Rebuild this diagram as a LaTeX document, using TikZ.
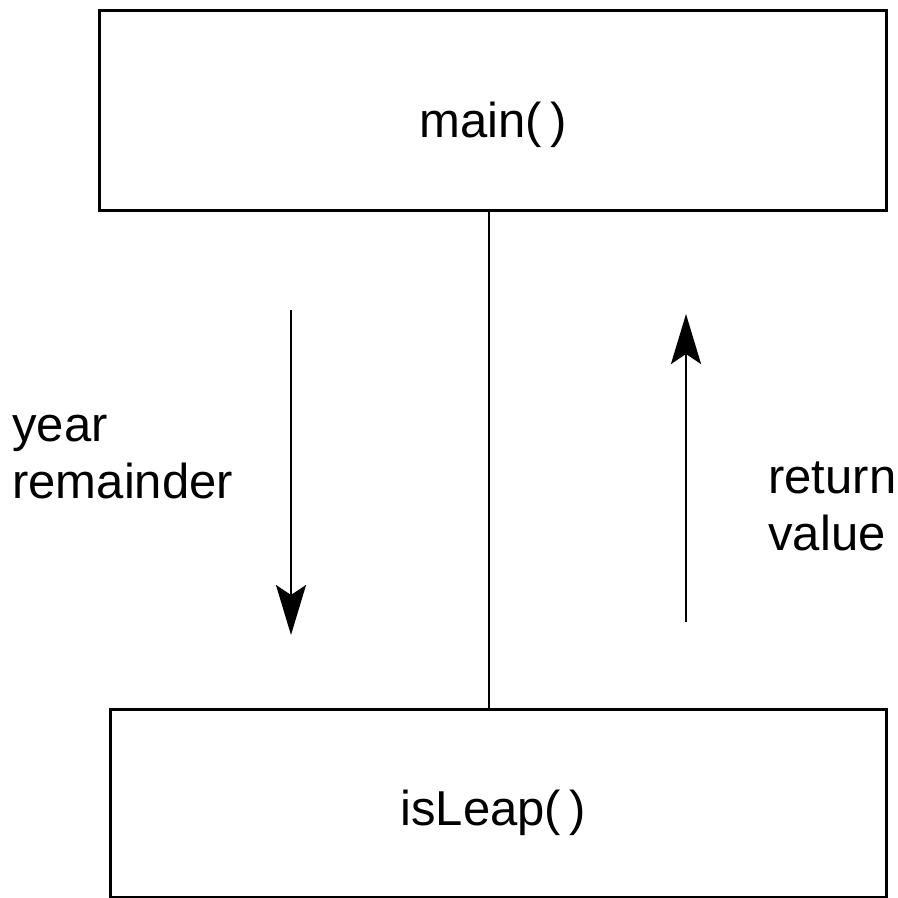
\documentclass[tikz,border=0pt]{standalone}
\usepackage{fontspec}
\setmainfont{Liberation Sans}
\usetikzlibrary{arrows.meta}
\begin{document}
\begin{tikzpicture}[x=0.5pt, y=-0.5pt,
  box/.style={draw, line width=1.5pt, rectangle, inner sep=0pt},
  boxtext/.style={anchor=base, font=\fontsize{24.5}{28}\selectfont, inner sep=0pt},
  sidetext/.style={anchor=base west, align=left, font=\fontsize{24.5}{28.5}\selectfont, inner sep=0pt},
  link/.style={line width=1pt},
  flow/.style={line width=1.2pt, -{Stealth[length=25pt, width=15pt, inset=5pt]}}]
  \useasboundingbox (0,0) rectangle (898,898);

  % calling function and called function
  \node[box, minimum width=393.5pt, minimum height=100pt] (main) at (492.5,111) {};
  \node[boxtext] (maintext) at (493,138) {main(\,)};
  \node[box, minimum width=388pt, minimum height=94pt] (leap) at (498,803) {};
  \node[boxtext] (leaptext) at (493,825) {isLeap(\,)};

  % call link between them
  \coordinate (spine) at (489,460);
  \draw[link] (main.south -| spine) -- (leap.north -| spine);

  % arguments passed down (base anchor sits on the last line)
  \coordinate (argtop) at (291,310);
  \coordinate (argend) at (291,635);
  \draw[flow] (argtop) -- (argend);
  \node[sidetext] (args) at (12,498) {year\\remainder};

  % value passed back up
  \coordinate (retbot) at (686,622);
  \coordinate (rettop) at (686,314);
  \draw[flow] (retbot) -- (rettop);
  \node[sidetext] (ret) at (768,550) {return\\value};
\end{tikzpicture}
\end{document}
